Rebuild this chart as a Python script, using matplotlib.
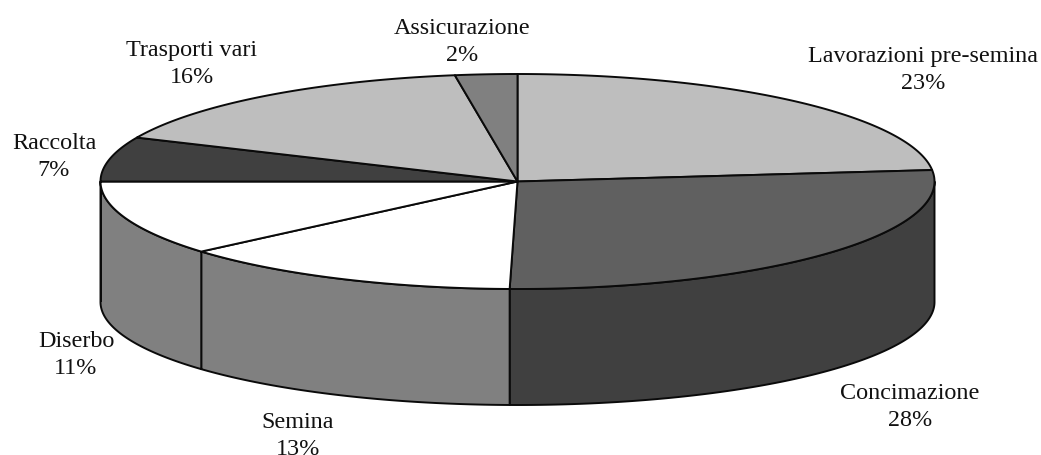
import matplotlib
matplotlib.use("Agg")
import matplotlib.pyplot as plt
import numpy as np

categories = ["Lavorazioni pre-semina", "Concimazione", "Semina", "Diserbo",
              "Raccolta", "Trasporti vari", "Assicurazione"]
# shares measured off the slices, printed percentages are kept apart
shares = [23.3, 27.0, 13.4, 11.3, 6.7, 15.9, 2.4]
percents = [23, 28, 13, 11, 7, 16, 2]

top_colors = ["#bebebe", "#606060", "#ffffff", "#ffffff", "#404040", "#bebebe", "#808080"]
side_colors = ["#404040", "#404040", "#808080", "#808080", "#404040", "#bebebe", "#808080"]
label_pos = [(923, 70), (910, 407), (298, 436), (76, 355), (54, 157), (192, 64), (462, 42)]

cx, cy = 517.5, 182.5
rx, ry = 417, 107.5
bottom_dy, bottom_ry = 120.5, 103
edge = "#0a0a0a"

plt.rcParams['font.family'] = ['Liberation Serif', 'DejaVu Serif']

fig = plt.figure(figsize=(10.41, 4.56), dpi=100)
ax = fig.add_axes([0, 0, 1, 1])
ax.set_xlim(0, 1041)
ax.set_ylim(456, 0)
ax.axis("off")


def rim(a0, a1, dy=0, r=ry):
  t = np.radians(np.linspace(a0, a1, 200))
  return cx + rx * np.cos(t), cy - r * np.sin(t) + dy


# angles run clockwise from the top of the ellipse
cum = np.cumsum([0] + shares) / np.sum(shares) * 360
starts = 90 - cum[:-1]
ends = 90 - cum[1:]

# side walls, only the front half of the ellipse shows
for a0, a1, c in zip(starts, ends, side_colors):
  lo, hi = max(a1, -180), min(a0, 0)
  if hi <= lo:
    continue
  x, y = rim(hi, lo)
  xb, yb = rim(lo, hi, bottom_dy, bottom_ry)
  ax.fill(np.r_[x, xb], np.r_[y, yb], facecolor=c, edgecolor=edge, linewidth=1.4, joinstyle="round", zorder=2)

# top face
for a0, a1, c in zip(starts, ends, top_colors):
  x, y = rim(a0, a1)
  ax.fill(np.r_[cx, x], np.r_[cy, y], facecolor=c, edgecolor=edge, linewidth=1.4, joinstyle="round", zorder=3)

for name, pct, (tx, ty) in zip(categories, percents, label_pos):
  ax.text(tx, ty, f"{name}\n{pct}%", ha="center", va="center", fontsize=17.4,
          linespacing=1.34, color="#111111", zorder=4)

fig.savefig("out.png", dpi=100, facecolor="white")
